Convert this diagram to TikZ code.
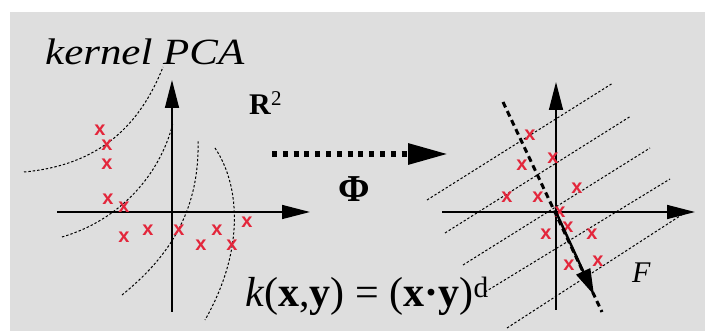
\documentclass[tikz,border=0pt]{standalone}
\usepackage{fontspec}
\setmainfont{Liberation Serif}
\newfontfamily\xfont{Liberation Sans}
\usetikzlibrary{arrows.meta}
\definecolor{panelgray}{HTML}{DEDEDE}
\definecolor{xred}{HTML}{E3263B}

\begin{document}
\begin{tikzpicture}[
  x=1pt, y=-1pt,
  every node/.style={inner sep=0pt},
  axis/.style={line width=1.5pt,-{Triangle[length=28pt,width=14pt]}},
  level/.style={line width=1pt,dash pattern=on 2.4pt off 2pt},
  xpt/.style={text=xred,font=\xfont\bfseries\fontsize{20}{20}\selectfont},
  phimap/.style={line width=6pt,dash pattern=on 5pt off 5.8pt,-{Triangle[length=40pt,width=20pt]}},
  pcline/.style={line width=3pt,dash pattern=on 6pt off 4pt},
  pcarrow/.style={line width=2.5pt,-{Triangle[length=26pt,width=15pt]}}
]
  \useasboundingbox (0,0) rectangle (705,331);
  \fill[panelgray] (10,12) rectangle (705,331);

  \draw[level] (24,172) .. controls (100,165) and (140,125) .. (163,67);
  \draw[level] (62,237) .. controls (120,220) and (160,175) .. (173,123);
  \draw[level] (122,295) .. controls (165,260) and (200,215) .. (198,140);
  \draw[level] (215,148) .. controls (240,185) and (245,250) .. (205,320);

  \coordinate (lxa) at (57,212);
  \coordinate (lxb) at (310,212);
  \coordinate (lya) at (172,312);
  \coordinate (lyb) at (172,80);
  \draw[axis] (lxa) -- (lxb);
  \draw[axis] (lya) -- (lyb);

  \foreach \px/\py [count=\i] in {100/130,107/145,107/164,108/199,124/207,124/237,
                                  148/230,179/230,217/230,201/245,232/245,247/222}
    \node[xpt] (l\i) at (\px,\py) {x};

  \node[anchor=base west] (title) at (45,65)
    {\fontsize{37}{40}\selectfont\itshape\scalebox{1.16}[1]{kernel PCA}};
  \node[anchor=base west] (rsq) at (249,115)
    {\fontsize{30}{32}\selectfont\textbf{R}\textsuperscript{2}};

  \coordinate (pa) at (272,154);
  \coordinate (pb) at (448,154);
  \draw[phimap] (pa) -- (pb);
  \node[anchor=base] (phi) at (354,202) {\fontsize{38}{40}\selectfont\textbf{Φ}};

  \node[anchor=base west] (kern) at (245,307)
    {\fontsize{42}{46}\selectfont\textit{k}(\textbf{x},\textbf{y}) = (\textbf{x}\textbf{·}\textbf{y})\textsuperscript{d}};

  \foreach \ax/\ay/\bx/\by in {427/200/613/83, 445/233/631/116, 463/265/650/148,
                               485/292/670/179, 507/328/683/214}
    \draw[level] (\ax,\ay) -- (\bx,\by);

  \coordinate (rxa) at (442,212);
  \coordinate (rxb) at (695,212);
  \coordinate (rya) at (556,310);
  \coordinate (ryb) at (556,82);
  \draw[axis] (rxa) -- (rxb);
  \draw[axis] (rya) -- (ryb);

  \foreach \px/\py [count=\i] in {530/135,553/158,522/165,577/188,507/197,538/197,
                                  560/212,568/227,546/234,592/234,569/265,598/261}
    \node[xpt] (r\i) at (\px,\py) {x};

  \coordinate (dtop) at (503,102);
  \coordinate (dbot) at (602,312);
  \coordinate (ro) at (556,212);
  \coordinate (ftip) at (594,295);
  \draw[pcline] (dtop) -- (dbot);
  \draw[pcarrow] (ro) -- (ftip);

  \node[anchor=base west] (fsp) at (632,283) {\fontsize{30}{32}\selectfont\textit{F}};
\end{tikzpicture}
\end{document}
